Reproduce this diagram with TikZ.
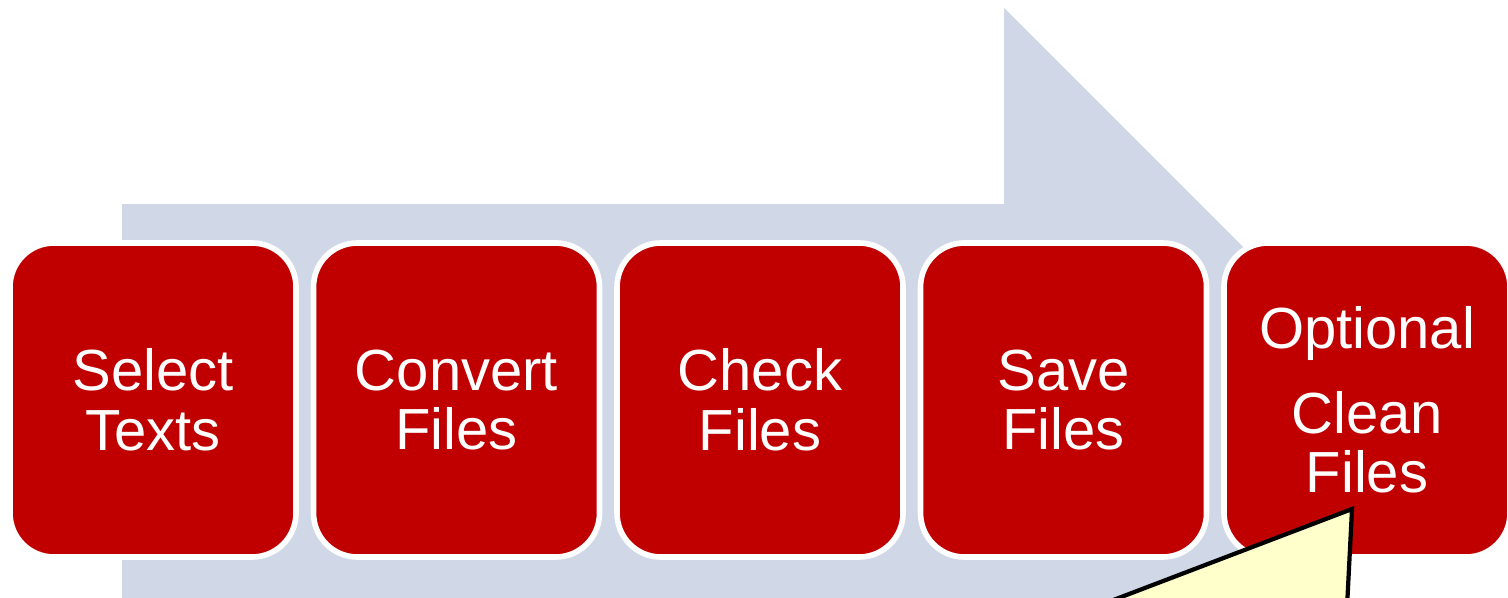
\documentclass[tikz,border=0pt]{standalone}
\usepackage{fontspec}
\setmainfont{Liberation Sans}
\usetikzlibrary{positioning}

\definecolor{stepred}{HTML}{C00000}
\definecolor{flowblue}{HTML}{D0D8E8}
\definecolor{noteyellow}{HTML}{FFFFCC}

\begin{document}
\begin{tikzpicture}[
    stepbox/.style={
        draw=white,
        fill=stepred,
        rounded corners=12.5pt,
        line width=1.6pt,
        minimum width=2.86cm,
        minimum height=3.14cm,
        text=white,
        font=\fontsize{16.5}{17}\selectfont,
        align=center
    },
    flowarrow/.style={
        fill=flowblue
    },
    note/.style={
        fill=noteyellow,
        draw=black,
        line width=1.2pt,
        line join=miter
    }
]
    \clip (0,0) rectangle (15.08,5.97);
    % big background arrow
    \fill[flowarrow] (1.22,-0.1) -- (1.22,3.93) -- (10.04,3.93) -- (10.04,5.89)
        -- (13.96,1.97) -- (10.04,-1.95) -- (10.04,-0.1) -- cycle;

    \node[stepbox] (select) at (1.53, 1.97) {Select\\Texts};
    \node[stepbox] (convert) at (4.565, 1.97) {Convert\\Files};
    \node[stepbox] (check) at (7.60, 1.97) {Check\\Files};
    \node[stepbox] (save) at (10.635, 1.97) {Save\\Files};
    \node[stepbox] (clean) at (13.67, 1.97) {Optional\\[7pt]Clean\\Files};

    % callout pointing at the last step
    \coordinate (tip) at (13.52, 0.88);
    \filldraw[note] (tip) -- (10.95,-0.1) -- (13.47,-0.1) -- cycle;
\end{tikzpicture}
\end{document}
